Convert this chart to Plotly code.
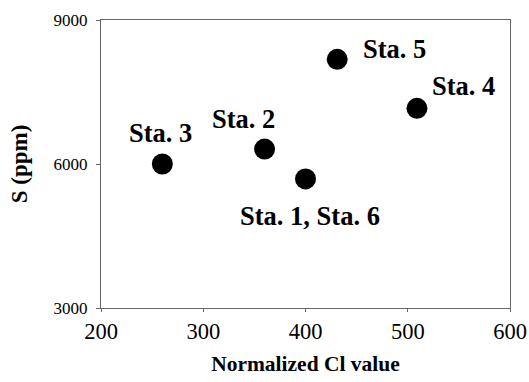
import plotly.graph_objects as go

stations = ["Sta. 3", "Sta. 2", "Sta. 1, Sta. 6", "Sta. 5", "Sta. 4"]
cl_values = [260, 360, 400, 431, 509]
s_values = [6000, 6310, 5690, 8180, 7160]
x_ticks = [200, 300, 400, 500, 600]
y_ticks = [3000, 6000, 9000]

# label offsets in pixels (style only)
label_dx = [-2, -21, 4, 57, 47]
label_dy = [31, 30, -37, 10, 22]

font_family = "Liberation Serif, Times New Roman, serif"

fig = go.Figure()
fig.add_trace(go.Scatter(
    x=cl_values, y=s_values, mode="markers",
    marker=dict(size=21, color="black", line=dict(width=0)),
    showlegend=False, hoverinfo="skip", cliponaxis=False,
))

for name, xv, yv, dx, dy in zip(stations, cl_values, s_values, label_dx, label_dy):
    fig.add_annotation(
        x=xv, y=yv, xref="x", yref="y", text="<b>%s</b>" % name,
        showarrow=False, xshift=dx, yshift=dy,
        font=dict(family=font_family, size=26.5, color="black"),
        xanchor="center", yanchor="middle",
    )

fig.update_layout(
    width=529, height=382,
    margin=dict(l=101, r=19, t=20, b=74, autoexpand=False),
    paper_bgcolor="white", plot_bgcolor="white",
    font=dict(family=font_family, color="black"),
)

fig.update_xaxes(
    range=[200, 600], tickvals=x_ticks, ticktext=[str(v) for v in x_ticks],
    showgrid=False, zeroline=False, showline=True, linecolor="#666", linewidth=1,
    mirror=True, ticks="outside", ticklen=3, tickcolor="#666", automargin=False,
    ticklabeloverflow="allow",
    tickfont=dict(size=22.5, family=font_family),
    title=dict(text="<b>Normalized Cl value</b>", font=dict(size=21.5, family=font_family), standoff=12),
)
fig.update_yaxes(
    range=[3000, 9000], tickvals=y_ticks, ticktext=[str(v) for v in y_ticks],
    showgrid=False, zeroline=False, showline=True, linecolor="#666", linewidth=1,
    mirror=True, ticks="outside", ticklen=4, tickcolor="#666", automargin=False,
    ticklabelstandoff=5, ticklabeloverflow="allow",
    tickfont=dict(size=17, family=font_family),
    title=dict(text="<b>S (ppm)</b>", font=dict(size=23, family=font_family), standoff=19),
)

fig.write_html(
    "out.html",
    config={"displayModeBar": False, "staticPlot": True},
    post_script="document.body.style.margin='0';document.body.style.overflow='hidden';",
)
